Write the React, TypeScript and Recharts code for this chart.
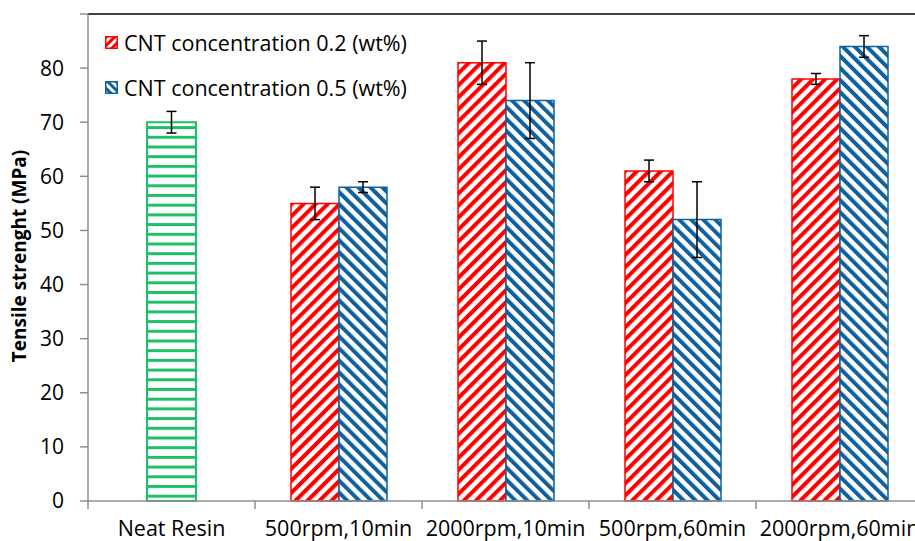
import React from 'react';
import { BarChart, Bar, XAxis, YAxis, ErrorBar, Legend, ReferenceLine } from 'recharts';

const categories = ['Neat Resin', '500rpm,10min', '2000rpm,10min', '500rpm,60min', '2000rpm,60min'];
const neatResin = [70, null, null, null, null];
const neatResinErr = [2, null, null, null, null];
const cnt02 = [null, 55, 81, 61, 78];
const cnt02Err = [null, 3, 4, 2, 1];
const cnt05 = [null, 58, 74, 52, 84];
const cnt05Err = [null, 1, 7, 7, 2];
const yTicks = [0, 10, 20, 30, 40, 50, 60, 70, 80, 90];

const seriesNames = ['CNT concentration 0.2 (wt%)', 'CNT concentration 0.5 (wt%)'];

const RED = '#ff0000';
const BLUE = '#10609c';
const GREEN = '#1fbf6a';
const AXIS = '#8f8f8f';
const FONT = '"Open Sans", "Noto Sans", sans-serif';

const CHART_W = 940;
const CHART_H = 541;
const MARGIN = { top: 14, right: 17, bottom: 0, left: 0 };
const Y_AXIS_W = 88;
const X_AXIS_H = 40;
const BAND = (CHART_W - MARGIN.left - MARGIN.right - Y_AXIS_W) / categories.length;
const AXIS_Y = CHART_H - MARGIN.bottom - X_AXIS_H;

const data = categories.map((cat, i) => ({
  cat,
  neat: neatResin[i],
  neatErr: neatResinErr[i],
  c02: cnt02[i],
  c02Err: cnt02Err[i],
  c05: cnt05[i],
  c05Err: cnt05Err[i],
}));

const CategoryTick = ({ x, payload, index }: any) => {
  const half = BAND / 2;
  return (
    <g>
      <line x1={x - half} x2={x - half} y1={AXIS_Y} y2={AXIS_Y + 8} stroke={AXIS} strokeWidth={1.5} />
      {index === categories.length - 1 && (
        <line x1={x + half} x2={x + half} y1={AXIS_Y} y2={AXIS_Y + 8} stroke={AXIS} strokeWidth={1.5} />
      )}
      <text x={x} y={AXIS_Y + 35} textAnchor="middle" fill="#000" style={{ fontFamily: FONT, fontSize: 21.5 }}>
        {payload.value}
      </text>
    </g>
  );
};

const Swatch = ({ color, dir }: { color: string; dir: number }) => (
  <svg width={13} height={13} style={{ display: 'block' }}>
    <defs>
      <pattern id={`sw-${dir}`} width={6} height={6} patternUnits="userSpaceOnUse" patternTransform={`rotate(${dir})`}>
        <rect x={0} y={0} width={3} height={6} fill={color} />
      </pattern>
    </defs>
    <rect x={0.75} y={0.75} width={11.5} height={11.5} fill="#fff" />
    <rect x={0.75} y={0.75} width={11.5} height={11.5} fill={`url(#sw-${dir})`} stroke={color} strokeWidth={1.5} />
  </svg>
);

const LegendBox = () => (
  <div style={{ fontFamily: FONT, fontSize: 21.5, color: '#000' }}>
    {seriesNames.map((name, i) => (
      <div key={name} style={{ display: 'flex', alignItems: 'center', height: 45, whiteSpace: 'nowrap' }}>
        <Swatch color={i === 0 ? RED : BLUE} dir={i === 0 ? 45 : -45} />
        <span style={{ marginLeft: 6 }}>{name}</span>
      </div>
    ))}
  </div>
);

export default function App() {
  return (
    <div style={{ position: 'absolute', left: 0, top: 0, width: 915, height: 541, overflow: 'hidden', background: '#fff' }}>
      <BarChart width={CHART_W} height={CHART_H} data={data} margin={MARGIN} barGap={0}>
        <defs>
          <pattern id="stripe02" width={8.5} height={8.5} patternUnits="userSpaceOnUse" patternTransform="rotate(45)">
            <rect x={0} y={0} width={8.5} height={8.5} fill="#fff" />
            <rect x={0} y={0} width={4} height={8.5} fill={RED} />
          </pattern>
          <pattern id="stripe05" width={8.5} height={8.5} patternUnits="userSpaceOnUse" patternTransform="rotate(-45)">
            <rect x={0} y={0} width={8.5} height={8.5} fill="#fff" />
            <rect x={0} y={0} width={4} height={8.5} fill={BLUE} />
          </pattern>
          <pattern id="stripeNeat" width={10} height={9.7} patternUnits="userSpaceOnUse">
            <rect x={0} y={0} width={10} height={9.7} fill="#fff" />
            <rect x={0} y={0} width={10} height={3} fill={GREEN} />
          </pattern>
        </defs>
        <XAxis
          dataKey="cat"
          height={X_AXIS_H}
          interval={0}
          axisLine={{ stroke: AXIS, strokeWidth: 1.5 }}
          tickLine={false}
          tick={<CategoryTick />}
        />
        <XAxis xAxisId="neat" dataKey="cat" hide />
        <YAxis
          width={Y_AXIS_W}
          domain={[0, 90]}
          ticks={yTicks}
          interval={0}
          tickSize={8}
          tickMargin={16}
          tickFormatter={(v) => (v === 90 ? '' : String(v))}
          axisLine={{ stroke: AXIS, strokeWidth: 1.5 }}
          tickLine={{ stroke: AXIS, strokeWidth: 1.5 }}
          tick={{ fill: '#000', fontFamily: FONT, fontSize: 21 }}
          label={{
            content: () => (
              <text
                x={19}
                y={256}
                transform="rotate(-90 19 256)"
                textAnchor="middle"
                dominantBaseline="central"
                fill="#000"
                style={{ fontFamily: FONT, fontSize: 19, fontWeight: 700 }}
              >
                Tensile strenght (MPa)
              </text>
            ),
          }}
        />
        <ReferenceLine y={90} stroke="#000" strokeWidth={1.5} />
        <Legend
          layout="horizontal"
          verticalAlign="middle"
          align="center"
          wrapperStyle={{ left: 105, top: 20, width: 'auto' }}
          content={<LegendBox />}
        />
        <Bar xAxisId="neat" dataKey="neat" name="Neat Resin" barSize={49} fill="url(#stripeNeat)" stroke={GREEN} strokeWidth={2} isAnimationActive={false} legendType="none">
          <ErrorBar dataKey="neatErr" width={5} stroke="#000" strokeWidth={1.5} />
        </Bar>
        <Bar dataKey="c02" name={seriesNames[0]} barSize={48} fill="url(#stripe02)" stroke={RED} strokeWidth={1.5} isAnimationActive={false}>
          <ErrorBar dataKey="c02Err" width={5} stroke="#000" strokeWidth={1.5} />
        </Bar>
        <Bar dataKey="c05" name={seriesNames[1]} barSize={48} fill="url(#stripe05)" stroke={BLUE} strokeWidth={1.5} isAnimationActive={false}>
          <ErrorBar dataKey="c05Err" width={5} stroke="#000" strokeWidth={1.5} />
        </Bar>
      </BarChart>
    </div>
  );
}
